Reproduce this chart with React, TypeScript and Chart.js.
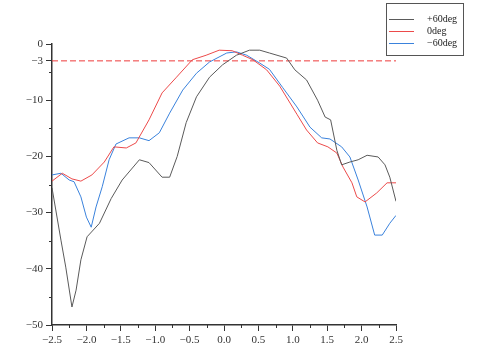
import React, { useEffect, useRef } from "react";
import { Chart, registerables } from "chart.js";
Chart.register(...registerables);

// ---- data ----
const LABELS = ["+60deg", "0deg", "\u221260deg"];

const xPlus60 = [-2.5, -2.37, -2.3, -2.21, -2.15, -2.08, -1.99, -1.81, -1.64, -1.48, -1.23, -1.09, -0.9, -0.79, -0.68, -0.55, -0.4, -0.21, -0.02, 0.18, 0.37, 0.52, 0.66, 0.91, 1.03, 1.2, 1.36, 1.47, 1.55, 1.64, 1.71, 1.83, 1.95, 2.08, 2.24, 2.34, 2.41, 2.5];
const yPlus60 = [-25.6, -34.9, -39.7, -46.8, -43.8, -38.4, -34.3, -31.9, -27.5, -24.2, -20.6, -21.1, -23.7, -23.7, -20, -14, -9.4, -5.9, -3.7, -2.0, -1.1, -1.1, -1.6, -2.5, -4.6, -6.4, -10, -13, -13.5, -18.9, -21.5, -21, -20.6, -19.8, -20.1, -21.5, -23.7, -28];

const xZero = [-2.5, -2.35, -2.21, -2.08, -1.92, -1.74, -1.6, -1.42, -1.28, -1.09, -0.9, -0.69, -0.46, -0.26, -0.07, 0.12, 0.27, 0.42, 0.62, 0.81, 1.06, 1.2, 1.36, 1.51, 1.64, 1.73, 1.86, 1.93, 2.05, 2.22, 2.37, 2.5];
const yZero = [-24.4, -23, -24, -24.4, -23.3, -21, -18.3, -18.5, -17.6, -13.5, -8.7, -5.9, -2.8, -2, -1.1, -1.2, -2, -2.8, -4.6, -7.5, -12.5, -15.3, -17.6, -18.3, -19.4, -21.9, -24.7, -27.2, -28.1, -26.5, -24.7, -24.7];

const xMinus60 = [-2.5, -2.37, -2.25, -2.18, -2.08, -2.0, -1.93, -1.86, -1.77, -1.67, -1.57, -1.38, -1.23, -1.09, -0.94, -0.79, -0.6, -0.4, -0.21, 0.04, 0.18, 0.33, 0.52, 0.66, 0.85, 1.06, 1.25, 1.42, 1.54, 1.71, 1.83, 1.95, 2.08, 2.19, 2.3, 2.41, 2.5];
const yMinus60 = [-23.3, -23, -24.2, -24.5, -27.2, -30.8, -32.6, -29, -25.4, -20.6, -17.8, -16.7, -16.7, -17.2, -15.8, -12.3, -8.2, -5.2, -3.2, -1.6, -1.4, -2, -3.4, -4.5, -7.7, -11.2, -14.8, -16.7, -16.9, -18.3, -20.1, -24.2, -29, -34, -34, -31.9, -30.5];

const REF_LEVEL = -3;
const X_RANGE = [-2.5, 2.5];
const Y_RANGE = [-50, 0];
const Y_TICKS = [-50, -40, -30, -20, -10, -3, 0];
const X_MINOR = [-2.25, -1.75, -1.25, -0.75, -0.25, 0.25, 0.75, 1.25, 1.75, 2.25];
const Y_MINOR = [-45, -35, -25, -15, -5];

// ---- styles ----
const COLORS = ["#5a5a5a", "#ec4a4a", "#3a82dc"];
const REF_COLOR = "#ee3a3a";
const AXIS_COLOR = "#333333";
const FONT = "'Liberation Serif', 'DejaVu Serif', serif";

const pts = (xs: number[], ys: number[]) => xs.map((x, i) => ({ x, y: ys[i] }));
const fmt = (v: number, d: number) => (v < 0 ? "\u2212" : "") + Math.abs(v).toFixed(d);

const minorTicks = {
  id: "minorTicks",
  afterDraw(chart: any) {
    const { ctx, chartArea } = chart;
    const xs = chart.scales.x;
    const ys = chart.scales.y;
    ctx.save();
    ctx.strokeStyle = AXIS_COLOR;
    ctx.lineWidth = 1;
    ctx.beginPath();
    for (const v of X_MINOR) {
      const px = Math.round(xs.getPixelForValue(v)) + 0.5;
      ctx.moveTo(px, chartArea.bottom);
      ctx.lineTo(px, chartArea.bottom + 3);
    }
    for (const v of Y_MINOR) {
      const py = Math.round(ys.getPixelForValue(v)) + 0.5;
      ctx.moveTo(chartArea.left, py);
      ctx.lineTo(chartArea.left - 3, py);
    }
    ctx.stroke();
    ctx.restore();
  },
};

const boxLegend = {
  id: "boxLegend",
  afterDraw(chart: any) {
    const { ctx } = chart;
    ctx.save();
    ctx.strokeStyle = "#555";
    ctx.lineWidth = 1;
    ctx.strokeRect(386.5, 3.5, 77, 52);
    ctx.font = `10px ${FONT}`;
    ctx.textBaseline = "middle";
    ctx.fillStyle = "#222";
    LABELS.forEach((lab, i) => {
      const y = 19 + i * 12;
      ctx.strokeStyle = COLORS[i];
      ctx.beginPath();
      ctx.moveTo(389, y + 0.5);
      ctx.lineTo(414, y + 0.5);
      ctx.stroke();
      ctx.fillText(lab, 427, y);
    });
    ctx.restore();
  },
};

export default function App() {
  const ref = useRef<HTMLCanvasElement | null>(null);
  useEffect(() => {
    if (!ref.current) return;
    const series = [pts(xPlus60, yPlus60), pts(xZero, yZero), pts(xMinus60, yMinus60)];
    const chart = new Chart(ref.current, {
      type: "line",
      data: {
        datasets: [
          ...series.map((d, i) => ({
            label: LABELS[i],
            data: d,
            borderColor: COLORS[i],
            borderWidth: 1,
            pointRadius: 0,
            tension: 0,
            fill: false,
          })),
          {
            label: "ref",
            data: [
              { x: X_RANGE[0], y: REF_LEVEL },
              { x: X_RANGE[1], y: REF_LEVEL },
            ],
            borderColor: REF_COLOR,
            borderWidth: 1,
            borderDash: [6, 3],
            pointRadius: 0,
            fill: false,
          },
        ],
      },
      options: {
        responsive: false,
        animation: false,
        layout: { padding: { top: 44, right: 101, left: 0, bottom: 0 } },
        plugins: { legend: { display: false }, tooltip: { enabled: false } },
        scales: {
          x: {
            type: "linear",
            min: X_RANGE[0],
            max: X_RANGE[1],
            grid: { display: true, drawOnChartArea: false, drawTicks: true, tickLength: 6, color: AXIS_COLOR },
            border: { display: true, color: AXIS_COLOR, width: 1.5 },
            ticks: {
              stepSize: 0.5,
              color: "#333",
              padding: 3,
              maxRotation: 0,
              font: { family: FONT, size: 11 },
              callback: (v: any) => fmt(Number(v), 1),
            },
            afterFit: (s: any) => {
              s.height = 31;
            },
          },
          y: {
            type: "linear",
            min: Y_RANGE[0],
            max: Y_RANGE[1],
            grid: { display: true, drawOnChartArea: false, drawTicks: true, tickLength: 6, color: AXIS_COLOR },
            border: { display: true, color: AXIS_COLOR, width: 1.5 },
            afterBuildTicks: (s: any) => {
              s.ticks = Y_TICKS.map((v) => ({ value: v }));
            },
            ticks: {
              color: "#333",
              padding: 3,
              font: { family: FONT, size: 11 },
              callback: (v: any) => fmt(Number(v), 0),
            },
            afterFit: (s: any) => {
              s.width = 52;
            },
          },
        },
      },
      plugins: [minorTicks, boxLegend],
    });
    return () => chart.destroy();
  }, []);
  return (
    <div style={{ position: "fixed", left: 0, top: 0, width: 497, height: 356, background: "#fff" }}>
      <canvas ref={ref} width={497} height={356} style={{ width: 497, height: 356 }} />
    </div>
  );
}
